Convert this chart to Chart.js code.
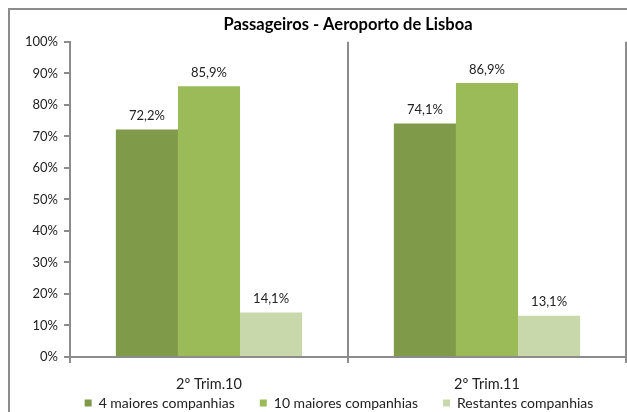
<!DOCTYPE html>
<html>
<head>
<meta charset="utf-8">
<script src="https://cdn.jsdelivr.net/npm/chart.js@4/dist/chart.umd.min.js"></script>
<style>
  html, body { margin: 0; padding: 0; background: #fff; }
  #wrap { position: relative; width: 627px; height: 412px; overflow: hidden; }
  #frame { position: absolute; left: 8px; top: 8px; width: 700px; height: 500px; border: 2px solid #8c8c8c; box-sizing: border-box; }
  canvas { position: absolute; left: 0; top: 0; }
</style>
</head>
<body>
<div id="wrap">
  <div id="frame"></div>
  <canvas id="c" width="627" height="420"></canvas>
</div>
<script>
const titleText = 'Passageiros - Aeroporto de Lisboa';
const categories = ['2º Trim.10', '2º Trim.11'];
const seriesNames = ['4 maiores companhias', '10 maiores companhias', 'Restantes companhias'];
const top4 = [72.2, 74.1];
const top10 = [85.9, 86.9];
const others = [14.1, 13.1];
const yTicks = [0, 10, 20, 30, 40, 50, 60, 70, 80, 90, 100];

const colors = ['#7F9A48', '#9BBB59', '#C8D8AB'];
const FONT = 'Lato, "Open Sans", sans-serif';

const valueLabels = {
  id: 'valueLabels',
  afterDatasetsDraw(chart) {
    const ctx = chart.ctx;
    ctx.save();
    ctx.font = '13px ' + FONT;
    ctx.fillStyle = '#222';
    ctx.textAlign = 'center';
    ctx.textBaseline = 'bottom';
    chart.data.datasets.forEach((ds, i) => {
      const meta = chart.getDatasetMeta(i);
      meta.data.forEach((el, j) => {
        const v = ds.data[j];
        ctx.fillText(v.toFixed(1).replace('.', ',') + '%', el.x, el.y - 7);
      });
    });
    ctx.restore();
  }
};

const noLabelClip = scale => { scale._computeLabelArea = () => undefined; };

new Chart(document.getElementById('c'), {
  type: 'bar',
  data: {
    labels: categories,
    datasets: [
      { label: seriesNames[0], data: top4, backgroundColor: colors[0] },
      { label: seriesNames[1], data: top10, backgroundColor: colors[1] },
      { label: seriesNames[2], data: others, backgroundColor: colors[2] }
    ]
  },
  options: {
    responsive: false,
    animation: false,
    devicePixelRatio: 1,
    layout: { padding: { left: 52, right: 1, top: 0, bottom: 0 } },
    datasets: { bar: { categoryPercentage: 0.67, barPercentage: 1.0 } },
    plugins: {
      title: {
        display: true,
        text: titleText,
        fullSize: false,
        color: '#000',
        font: { family: FONT, size: 16.5, weight: 'bold' },
        padding: { top: 15, bottom: 7 }
      },
      legend: {
        position: 'bottom',
        fullSize: true,
        labels: {
          color: '#222',
          font: { family: FONT, size: 14 },
          boxWidth: 7,
          boxHeight: 7,
          padding: 25
        }
      },
      tooltip: { enabled: false }
    },
    scales: {
      x: {
        grid: { offset: true, drawOnChartArea: true, color: '#8c8c8c', lineWidth: 2, tickLength: 6 },
        border: { color: '#8c8c8c', width: 2 },
        ticks: { color: '#222', font: { family: FONT, size: 14.5 }, padding: 13 },
        afterFit(scale) { scale.height = 14; noLabelClip(scale); }
      },
      y: {
        min: 0,
        max: 100,
        afterBuildTicks(scale) { scale.ticks = yTicks.map(v => ({ value: v })); },
        grid: { drawOnChartArea: false, color: '#8c8c8c', lineWidth: 2, tickLength: 6 },
        border: { color: '#8c8c8c', width: 2 },
        ticks: { color: '#222', font: { family: FONT, size: 13 }, padding: 6, callback: v => v + '%' },
        afterFit(scale) { scale.width = 18; noLabelClip(scale); }
      }
    }
  },
  plugins: [valueLabels]
});
</script>
</body>
</html>
